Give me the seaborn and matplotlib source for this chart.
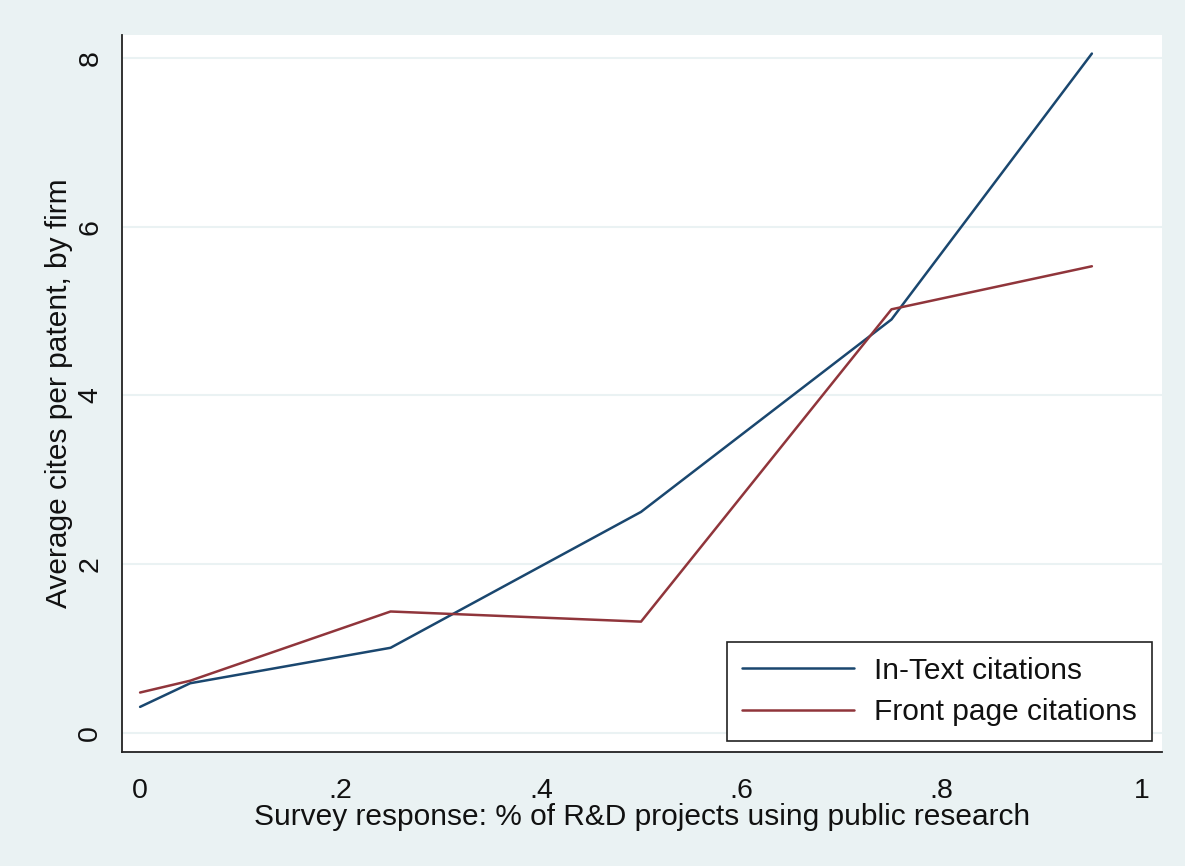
import numpy as np
import pandas as pd
import seaborn as sns
import matplotlib.pyplot as plt

# ---------- data ----------
survey_share = [0.0, 0.05, 0.25, 0.50, 0.75, 0.95]
in_text_cites = [0.31, 0.59, 1.01, 2.62, 4.90, 8.05]
front_page_cites = [0.48, 0.62, 1.44, 1.32, 5.02, 5.53]
series_names = ["In-Text citations", "Front page citations"]
x_ticks = [0, 0.2, 0.4, 0.6, 0.8, 1.0]
x_ticklabels = ["0", ".2", ".4", ".6", ".8", "1"]
y_ticks = [0, 2, 4, 6, 8]

df = pd.DataFrame({
    "share": survey_share * 2,
    "cites": in_text_cites + front_page_cites,
    "series": [series_names[0]] * len(survey_share) + [series_names[1]] * len(survey_share),
})

# ---------- style ----------
sns.set_style("white")
plt.rcParams["font.family"] = ["Liberation Sans", "DejaVu Sans"]
plt.rcParams["text.color"] = "#111111"
plt.rcParams["axes.labelcolor"] = "#111111"
plt.rcParams["xtick.labelcolor"] = "#111111"
plt.rcParams["ytick.labelcolor"] = "#111111"

bg = "#eaf2f3"
colors = {series_names[0]: "#1a476f", series_names[1]: "#90353b"}
fs = 21.5
tick_fs = 20.5

fig = plt.figure(figsize=(11.85, 8.66), dpi=100, facecolor=bg)
ax = fig.add_axes([0.103, 0.1316, 0.8776, 0.828])
ax.set_facecolor("white")

sns.lineplot(data=df, x="share", y="cites", hue="series", palette=colors,
             linewidth=1.8, ax=ax, sort=False)

ax.set_xlim(-0.018, 1.02)
ax.set_ylim(-0.225, 8.27)
ax.set_xticks(x_ticks)
ax.set_xticklabels(x_ticklabels)
ax.set_yticks(y_ticks)
ax.set_yticklabels([str(v) for v in y_ticks], rotation=90, va="center")

for g in y_ticks:
    ax.axhline(g, color=bg, linewidth=1.5, zorder=0)

for side in ["top", "right"]:
    ax.spines[side].set_visible(False)
for side in ["left", "bottom"]:
    ax.spines[side].set_color("#222222")
    ax.spines[side].set_linewidth(1.3)

ax.tick_params(axis="both", labelsize=tick_fs, length=7.5, width=1.2,
               direction="out", color="#222222", labelcolor="#111111")
ax.tick_params(axis="x", pad=11)
ax.tick_params(axis="y", pad=6)
ax.set_xlabel("Survey response: % of R&D projects using public research",
              fontsize=fs, labelpad=-0.5, color="#111111")
ax.set_ylabel("Average cites per patent, by firm", fontsize=fs, labelpad=3,
              color="#111111")

leg = ax.legend(loc="lower right", bbox_to_anchor=(0.99, 0.015), borderaxespad=0,
                fontsize=fs, handlelength=3.75, handletextpad=0.67, fancybox=False,
                frameon=True, edgecolor="#222222", framealpha=1,
                borderpad=0.5, labelspacing=0.45, labelcolor="#111111")
leg.get_frame().set_linewidth(1.2)
for line in leg.get_lines():
    line.set_linewidth(1.8)

fig.savefig("out.png", dpi=100, facecolor=bg)
